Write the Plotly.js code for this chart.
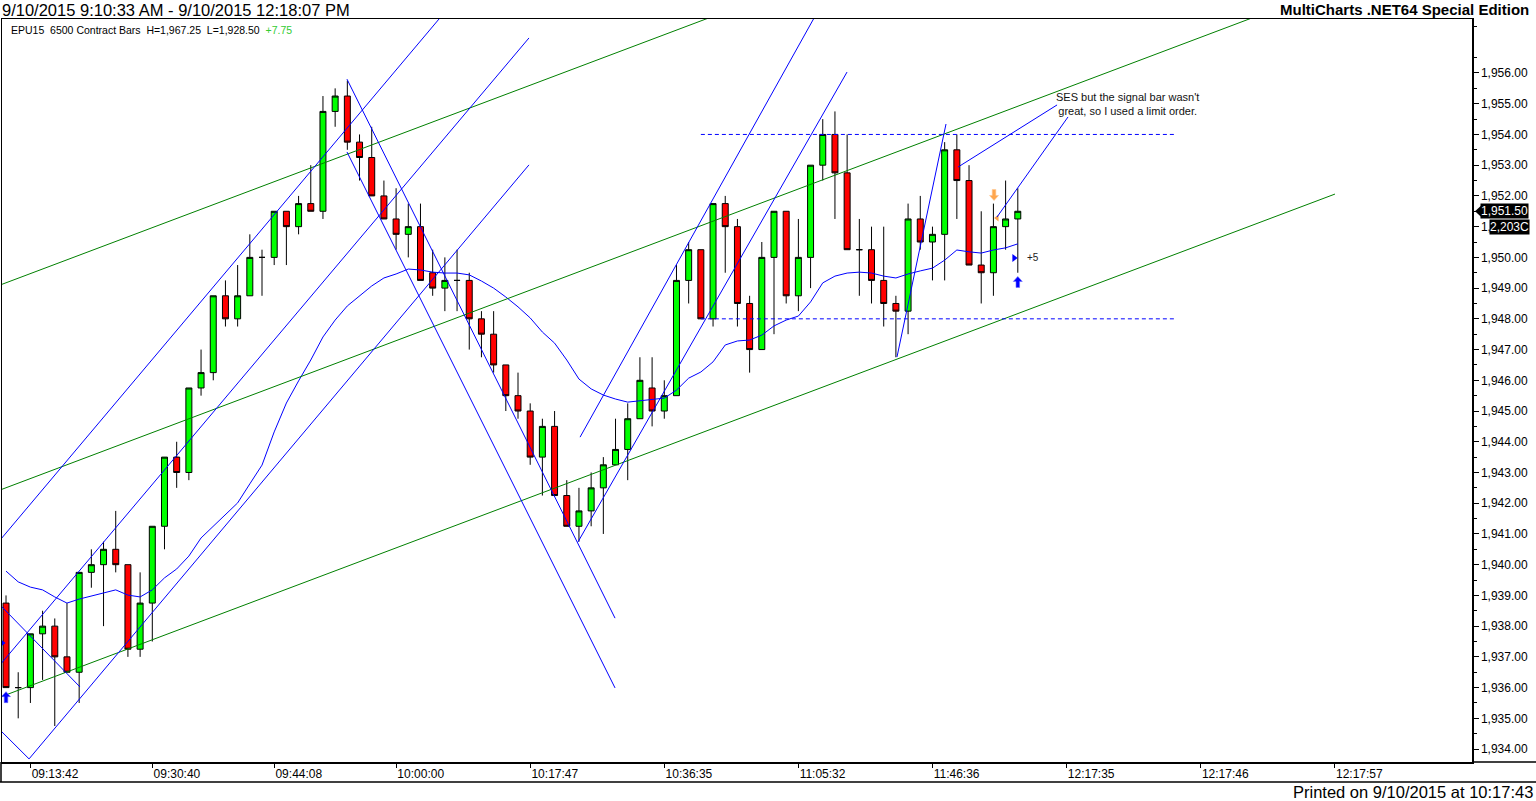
<!DOCTYPE html>
<html>
<head>
<meta charset="utf-8">
<script src="https://cdn.plot.ly/plotly-3.0.1.min.js"></script>
<style>
html,body{margin:0;padding:0;background:#fff;}
#chart{width:1536px;height:801px;}
</style>
</head>
<body>
<div id="chart"></div>
<script>
// ---- data ----
const opens  = [1938.75,1936,1936,1937.75,1938,1937,1936.5,1939.75,1940,1940.5,1940,1937.25,1938.75,1941.25,1943.5,1943,1945.75,1946.25,1948.75,1948,1948.75,1950,1950,1951.5,1951,1951.75,1951.5,1954.75,1955.25,1953.75,1953.25,1952,1951.25,1950.75,1951,1949.5,1949,1949.25,1949.25,1948,1947.5,1946.5,1945.5,1945,1943.5,1944.5,1942.25,1941.25,1941.75,1942.5,1943.25,1943.75,1944.75,1945.75,1945,1945.5,1949.25,1950.25,1948,1951.75,1951,1948.5,1947,1950,1951.5,1948.75,1950,1953,1954,1952.75,1950.25,1950.25,1949.25,1948.5,1948.25,1951.25,1950.5,1950.75,1953.5,1952.5,1949.75,1949.5,1951,1951.25];
const highs  = [1939,1936.5,1937.75,1938.5,1938.25,1938.75,1939.75,1940.5,1940.75,1941.75,1940,1939.75,1941.25,1943.5,1944,1945.75,1947,1948.75,1949.25,1949.75,1950.75,1950.25,1951.5,1951.5,1952,1953,1955.25,1955.5,1955.75,1954,1954.25,1952.5,1952.25,1951.75,1951.75,1950.25,1950,1950.25,1949.5,1948.25,1948.25,1946.5,1946.25,1945.25,1944.75,1945,1942.75,1942.5,1943,1943.5,1944.75,1945.25,1946.75,1946.75,1946,1949.75,1950.5,1950.25,1951.75,1952,1951.25,1948.75,1950.5,1951.5,1951.5,1951.25,1953,1954.5,1954.75,1954,1951.25,1951,1951,1948.75,1951.75,1952,1951,1953.75,1954,1953,1951.5,1951.75,1952.5,1952.25];
const lows   = [1936,1935,1935.5,1936.25,1934.75,1936.5,1935.5,1939.25,1938,1939.75,1937,1937,1937.5,1940.5,1942.5,1942.75,1945.5,1946,1947.75,1947.75,1948.75,1948.75,1949.75,1949.75,1950.75,1951.5,1951.25,1954.25,1953.5,1952.5,1952,1951.25,1950.25,1950,1949.25,1948.75,1948.25,1948.25,1947,1946.75,1946.25,1945,1944.75,1943.25,1942.25,1942.25,1941.25,1940.75,1941.25,1941,1943.25,1942.75,1944.75,1944.5,1944.75,1945.5,1948.5,1948,1947.75,1949.5,1947.75,1946.25,1947,1947.5,1948.5,1948.25,1949,1952.5,1951.25,1950.25,1948.75,1948.5,1947.75,1946.75,1947.5,1950.25,1949.25,1949.25,1951.25,1949.75,1948.5,1948.75,1950.25,1949.5];
const closes = [1936,1936,1937.75,1938,1937,1936.5,1939.75,1940,1940.5,1940,1937.25,1938.75,1941.25,1943.5,1943,1945.75,1946.25,1948.75,1948,1948.75,1950,1950,1951.5,1951,1951.75,1951.5,1954.75,1955.25,1953.75,1953.25,1952,1951.25,1950.75,1951,1949.25,1949,1949.25,1949.25,1948,1947.5,1946.5,1945.5,1945,1943.5,1944.5,1942.25,1941.25,1941.75,1942.5,1943.25,1943.75,1944.75,1946,1945,1945.5,1949.25,1950.25,1948,1951.75,1951,1948.5,1947,1950,1951.5,1948.75,1950,1953,1954,1952.75,1950.25,1950.25,1949.25,1948.5,1948.25,1951.25,1950.5,1950.75,1953.5,1952.5,1949.75,1949.5,1951,1951.25,1951.5];
const movingAvg = [1939.79,1939.44,1939.27,1939.18,1938.95,1938.75,1938.88,1938.98,1939.08,1939.18,1939.01,1938.95,1939.18,1939.57,1939.86,1940.28,1940.87,1941.26,1941.62,1942.01,1942.63,1943.24,1944.32,1945.26,1945.98,1946.66,1947.41,1947.96,1948.42,1948.74,1949.07,1949.33,1949.46,1949.62,1949.59,1949.52,1949.49,1949.49,1949.43,1949.23,1949.00,1948.71,1948.39,1948.03,1947.57,1947.21,1946.66,1946.04,1945.72,1945.52,1945.39,1945.29,1945.33,1945.36,1945.42,1945.68,1946.07,1946.27,1946.60,1947.15,1947.28,1947.31,1947.47,1947.77,1947.96,1948.09,1948.55,1949.17,1949.39,1949.49,1949.52,1949.49,1949.39,1949.33,1949.46,1949.56,1949.65,1949.91,1950.24,1950.18,1950.14,1950.24,1950.31,1950.44];
const barIndex = opens.map((_, i) => i);

const timeTickPos   = [2,12,22,32,43,54,65,76,87,98,109];
const timeTickLabel = ["09:13:42","09:30:40","09:44:08","10:00:00","10:17:47","10:36:35","11:05:32","11:46:36","12:17:35","12:17:46","12:17:57"];
const priceTicks = [1934,1935,1936,1937,1938,1939,1940,1941,1942,1943,1944,1945,1946,1947,1948,1949,1950,1951,1952,1953,1954,1955,1956];

// drawn trendlines: [barFrom, priceFrom, barTo, priceTo]
const channelLines = [
  [-0.49,1949.10,61.85,1958.42],
  [-0.49,1942.43,106.15,1958.38],
  [-0.49,1935.69,109.02,1952.06]
];
const trendLines = [
  [-0.49,1940.80,36.42,1958.18],
  [-0.49,1936.74,42.90,1957.14],
  [1.89,1933.68,42.90,1953.01],
  [-0.49,1938.69,6.07,1936.02],
  [-0.49,1934.62,1.89,1933.68],
  [27.97,1955.80,49.96,1938.26],
  [27.97,1953.43,49.96,1935.99],
  [47.09,1944.15,66.61,1958.02],
  [46.92,1940.74,68.99,1956.03],
  [73.09,1946.76,77.11,1954.34],
  [78.10,1952.94,86.22,1954.96],
  [81.29,1951.31,87.12,1954.57]
];
const levelLines = [[57.0,1954.0,95.9],[57.0,1948.0,95.9]];

// signal markers: [bar, price]
const buyArrows  = [[0,1935.69],[83.0,1949.2]];
const sellArrows = [[81.05,1952.03]];
const exitTicks  = [[82.7,1949.98],[-0.33,1937.45]];
const entryTicks = [[81.3,1951.28]];

const noteText = "SES but the signal bar wasn't<br>great, so I used a limit order.";
const notePos = [92.0,1954.99];
const lastPrice = 1951.50;
const lastPriceLabel = "1,951.50";
const volumeLabel = "2,203C";
const profitLabel = "+5";

// ---- traces ----
const candles = {
  type:'candlestick', x:barIndex, open:opens, high:highs, low:lows, close:closes,
  increasing:{line:{color:'#000',width:1}, fillcolor:'#00ff00'},
  decreasing:{line:{color:'#000',width:1}, fillcolor:'#ff0000'},
  whiskerwidth:0, hoverinfo:'skip'
};
const maTrace = {type:'scatter', mode:'lines', x:barIndex, y:movingAvg, line:{color:'#0000ff',width:1}, hoverinfo:'skip'};
const exitTrace = {type:'scatter',mode:'markers',x:exitTicks.map(p=>p[0]),y:exitTicks.map(p=>p[1]),marker:{symbol:'triangle-right',size:7,color:'#0000ff',line:{width:0}},hoverinfo:'skip'};
const entryTrace = {type:'scatter',mode:'markers',x:entryTicks.map(p=>p[0]),y:entryTicks.map(p=>p[1]),marker:{symbol:'triangle-left',size:6,color:'#ffa64d',line:{width:0}},hoverinfo:'skip'};

// ---- shapes ----
const shapes = [];
channelLines.forEach(l=>shapes.push({type:'line',xref:'x',yref:'y',x0:l[0],y0:l[1],x1:l[2],y1:l[3],line:{color:'#008000',width:1},layer:'above'}));
trendLines.forEach(l=>shapes.push({type:'line',xref:'x',yref:'y',x0:l[0],y0:l[1],x1:l[2],y1:l[3],line:{color:'#0000ff',width:1},layer:'above'}));
levelLines.forEach(l=>shapes.push({type:'line',xref:'x',yref:'y',x0:l[0],y0:l[1],x1:l[2],y1:l[1],line:{color:'#0000ff',width:1,dash:'4px,3px'},layer:'above'}));
const upArrow = 'M 0 5.5 L 4.5 0.5 L 1.8 0.5 L 1.8 -5.5 L -1.8 -5.5 L -1.8 0.5 L -4.5 0.5 Z';
const downArrow = 'M 0 -5.5 L 4.5 -0.5 L 1.8 -0.5 L 1.8 5.5 L -1.8 5.5 L -1.8 -0.5 L -4.5 -0.5 Z';
buyArrows.forEach(p=>shapes.push({type:'path',xref:'x',yref:'y',xsizemode:'pixel',ysizemode:'pixel',xanchor:p[0],yanchor:p[1],path:upArrow,fillcolor:'#0000ff',line:{color:'#6f6fff',width:0.6},layer:'above'}));
sellArrows.forEach(p=>shapes.push({type:'path',xref:'x',yref:'y',xsizemode:'pixel',ysizemode:'pixel',xanchor:p[0],yanchor:p[1],path:downArrow,fillcolor:'#ffa64d',line:{color:'#ffc890',width:0.6},layer:'above'}));
// axis band frame (paper units)
const W=1470, H=743;
const px = v => (v-2)/W, py = v => (762-v)/H;
shapes.push({type:'line',xref:'paper',yref:'paper',x0:px(0),x1:px(1536),y0:py(782),y1:py(782),line:{color:'#000',width:1.5}});
shapes.push({type:'line',xref:'paper',yref:'paper',x0:px(1472),x1:px(1536),y0:py(762),y1:py(762),line:{color:'#000',width:1.5}});
shapes.push({type:'line',xref:'paper',yref:'paper',x0:px(1),x1:px(1),y0:py(762),y1:py(782),line:{color:'#000',width:1.5}});
// price tag pointer
shapes.push({type:'path',xref:'paper',yref:'y',xsizemode:'pixel',ysizemode:'pixel',xanchor:1,yanchor:lastPrice,path:'M 3 0 L 9 -5.5 L 9 5.5 Z',fillcolor:'#000',line:{width:0}});

// ---- annotations ----
const font = 'Liberation Sans, Arial, sans-serif';
const annotations = [
  {xref:'paper',yref:'paper',x:px(0),y:py(10),xanchor:'left',yanchor:'middle',showarrow:false,text:'9/10/2015 9:10:33 AM - 9/10/2015 12:18:07 PM',font:{family:font,size:16.5,color:'#000'}},
  {xref:'paper',yref:'paper',x:px(1531),y:py(10),xanchor:'right',yanchor:'middle',showarrow:false,text:'<b>MultiCharts .NET64 Special Edition</b>',font:{family:font,size:15,color:'#000'}},
  {xref:'paper',yref:'paper',x:px(1535),y:py(792),xanchor:'right',yanchor:'middle',showarrow:false,text:'Printed on 9/10/2015 at 10:17:43',font:{family:font,size:16.5,color:'#000'}},
  {xref:'paper',yref:'paper',x:px(9),y:py(30),xanchor:'left',yanchor:'middle',showarrow:false,text:'EPU15  6500 Contract Bars  H=1,967.25  L=1,928.50  <span style="color:#33cc33">+7.75</span>',font:{family:font,size:10.5,color:'#000'}},
  {xref:'x',yref:'y',x:notePos[0],y:notePos[1],xanchor:'center',yanchor:'middle',showarrow:false,text:noteText,font:{family:font,size:11,color:'#111'},align:'center'},
  {xref:'x',yref:'y',x:83.6,y:1949.98,xanchor:'left',yanchor:'middle',showarrow:false,text:profitLabel,font:{family:font,size:10,color:'#222'}},
  {xref:'paper',yref:'y',x:1,y:lastPrice,xanchor:'left',yanchor:'middle',xshift:8,showarrow:false,text:lastPriceLabel,font:{family:font,size:12,color:'#fff'},bgcolor:'#000',borderpad:0},
  {xref:'paper',yref:'y',x:1,y:1951.0,xanchor:'left',yanchor:'middle',xshift:17,showarrow:false,text:volumeLabel,font:{family:font,size:12,color:'#fff'},bgcolor:'#000',borderpad:0}
];

const layout = {
  width:1536, height:801,
  margin:{l:2,r:64,t:19,b:39,pad:0},
  paper_bgcolor:'#fff', plot_bgcolor:'#fff',
  showlegend:false, hovermode:false, dragmode:false,
  font:{family:font,size:12,color:'#000'},
  xaxis:{
    type:'linear', range:[-0.33,120.26], rangeslider:{visible:false},
    showgrid:false, zeroline:false, showline:true, linecolor:'#000', linewidth:1.5, mirror:true,
    ticks:'outside', ticklen:4, tickcolor:'#000', tickwidth:1,
    tickmode:'array', tickvals:timeTickPos, ticktext:timeTickLabel,
    ticklabelposition:'outside right', tickfont:{family:font,size:12,color:'#000'}
  },
  yaxis:{
    side:'right', range:[1933.579,1957.757],
    showgrid:false, zeroline:false, showline:true, linecolor:'#000', linewidth:1.5, mirror:true,
    ticks:'outside', ticklen:5, tickcolor:'#000', tickwidth:1,
    tickmode:'array', tickvals:priceTicks, tickformat:',.2f', tickfont:{family:font,size:12,color:'#000'},
    minor:{tickmode:'linear', tick0:1933.5, dtick:1, ticks:'outside', ticklen:3, tickcolor:'#000', showgrid:false}
  },
  shapes:shapes,
  annotations:annotations
};

Plotly.newPlot('chart',[candles,maTrace,exitTrace,entryTrace],layout,{staticPlot:true,displayModeBar:false});
</script>
</body>
</html>
